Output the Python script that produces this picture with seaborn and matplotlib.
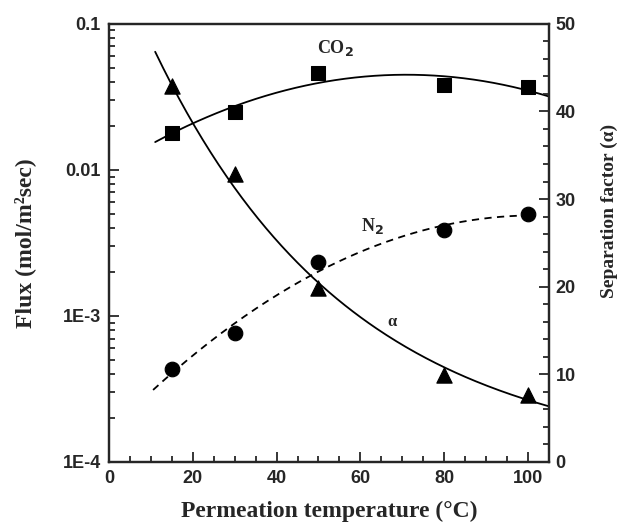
import numpy as np
import pandas as pd
import matplotlib
matplotlib.use("Agg")
import matplotlib.pyplot as plt
import seaborn as sns
from matplotlib.ticker import MultipleLocator, FixedLocator, FixedFormatter, LogLocator, NullFormatter

# Data
temperature = [15, 30, 50, 80, 100]
co2_flux = [0.018, 0.025, 0.046, 0.038, 0.037]
n2_flux = [4.3e-4, 7.6e-4, 2.35e-3, 3.85e-3, 5.0e-3]
alpha = [42.9, 32.9, 19.8, 9.9, 7.6]

flux_ticks = [1e-4, 1e-3, 1e-2, 1e-1]
flux_tick_labels = ["1E-4", "1E-3", "0.01", "0.1"]

df = pd.DataFrame({"T": temperature, "CO2": co2_flux, "N2": n2_flux, "alpha": alpha})

# Smooth trend curves fitted to the points (quadratic in log for the fluxes)
xs_co2 = np.linspace(11, 105, 200)
p = np.polyfit(temperature, np.log10(co2_flux), 2)
co2_fit = pd.DataFrame({"T": xs_co2, "v": 10 ** np.polyval(p, xs_co2)})

xs_n2 = np.linspace(10.5, 101, 200)
p = np.polyfit(temperature, np.log10(n2_flux), 2)
n2_fit = pd.DataFrame({"T": xs_n2, "v": 10 ** np.polyval(p, xs_n2)})

# alpha: exponential decay
xs_a = np.linspace(11, 105, 200)
p = np.polyfit(temperature, np.log(alpha), 1)
alpha_fit = pd.DataFrame({"T": xs_a, "v": np.exp(np.polyval(p, xs_a))})

sns.set_style("ticks")
plt.rcParams["font.family"] = ["Liberation Sans", "DejaVu Sans"]

fig = plt.figure(figsize=(6.2, 5.28), dpi=100)
ax = fig.add_axes([0.176, 0.125, 0.709, 0.83])
ax2 = ax.twinx()

# Flux axis (log)
sns.lineplot(data=co2_fit, x="T", y="v", ax=ax, color="black", lw=1.3)
sns.lineplot(data=n2_fit, x="T", y="v", ax=ax, color="black", lw=1.3, linestyle=(0, (4, 3)))
sns.scatterplot(data=df, x="T", y="CO2", ax=ax, marker="s", s=90, color="black", edgecolor="black")
sns.scatterplot(data=df, x="T", y="N2", ax=ax, marker="o", s=110, color="black", edgecolor="black")
ax.set_yscale("log")
ax.set_ylim(1e-4, 0.1)
ax.set_xlim(0, 105)

# Separation factor axis
sns.lineplot(data=alpha_fit, x="T", y="v", ax=ax2, color="black", lw=1.3)
sns.scatterplot(data=df, x="T", y="alpha", ax=ax2, marker="^", s=120, color="black", edgecolor="black")
ax2.set_ylim(0, 50)
ax2.set_xlim(0, 105)

# Ticks
ax.xaxis.set_major_locator(MultipleLocator(20))
ax.xaxis.set_minor_locator(MultipleLocator(5))
ax.yaxis.set_major_locator(FixedLocator(flux_ticks))
ax.yaxis.set_major_formatter(FixedFormatter(flux_tick_labels))
ax.yaxis.set_minor_locator(LogLocator(base=10, subs=np.arange(2, 10)))
ax.yaxis.set_minor_formatter(NullFormatter())
ax2.yaxis.set_major_locator(MultipleLocator(10))
ax2.yaxis.set_minor_locator(MultipleLocator(2))

for a in (ax, ax2):
    a.tick_params(which="both", direction="in", width=1.3)
    a.tick_params(which="major", length=7, labelsize=13)
    a.tick_params(which="minor", length=4)
    for t in a.get_xticklabels() + a.get_yticklabels():
        t.set_fontweight("bold")
    for sp in a.spines.values():
        sp.set_linewidth(1.6)
ax.tick_params(axis="x", pad=6)
ax.tick_params(axis="y", pad=6)
ax2.tick_params(axis="y", pad=5)

serif = ["Liberation Serif", "DejaVu Serif"]
ax.set_xlabel("Permeation temperature (\u00b0C)", fontsize=17, fontweight="bold",
              family=serif, labelpad=10)
ax.set_ylabel("Flux (mol/m\u00b2sec)", fontsize=17, fontweight="bold", family=serif, labelpad=19)
ax2.set_ylabel("Separation factor (\u03b1)", fontsize=14, fontweight="bold", family=serif)
ax2.yaxis.set_label_coords(1.118, 0.573)

# Curve labels
ax.text(54, 0.068, "CO$_\\mathbf{2}$", fontsize=13, fontweight="bold", family=serif,
        ha="center", va="center")
ax.text(63, 0.0041, "N$_\\mathbf{2}$", fontsize=13, fontweight="bold", family=serif,
        ha="center", va="center")
ax2.text(67.5, 16.0, "\u03b1", fontsize=12, fontweight="bold", family=serif,
         ha="center", va="center")

fig.savefig("out.png", dpi=100)
